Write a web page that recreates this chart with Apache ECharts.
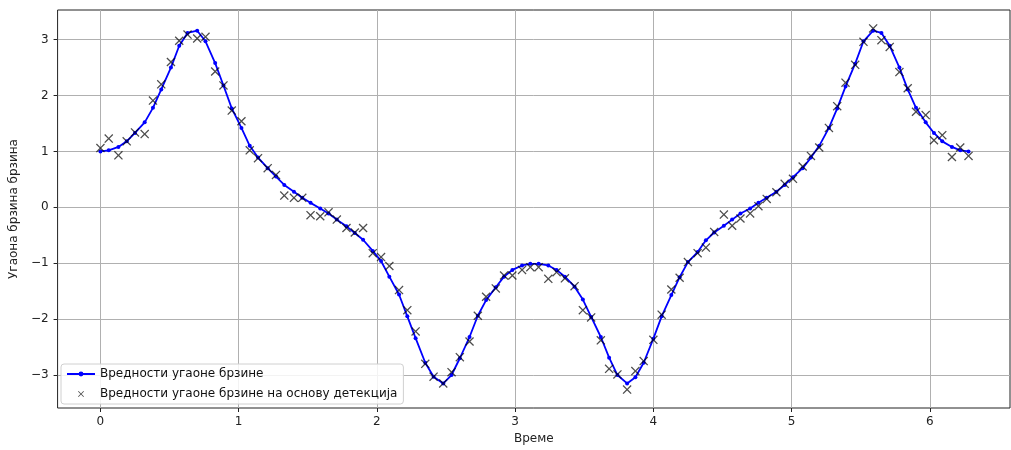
<!DOCTYPE html>
<html><head><meta charset="utf-8">
<script src="https://cdn.jsdelivr.net/npm/echarts@6/dist/echarts.min.js"></script>
<style>html,body{margin:0;padding:0;background:#fff}#c{width:1011px;height:450px}</style>
</head><body><div id="c"></div><script>
const times = [0.00,0.06,0.13,0.19,0.25,0.32,0.38,0.44,0.51,0.57,
0.63,0.70,0.76,0.83,0.89,0.95,1.02,1.08,1.14,1.21,
1.27,1.33,1.40,1.46,1.52,1.59,1.65,1.71,1.78,1.84,
1.90,1.97,2.03,2.09,2.16,2.22,2.28,2.35,2.41,2.48,
2.54,2.60,2.67,2.73,2.79,2.86,2.92,2.98,3.05,3.11,
3.17,3.24,3.30,3.36,3.43,3.49,3.55,3.62,3.68,3.74,
3.81,3.87,3.93,4.00,4.06,4.13,4.19,4.25,4.32,4.38,
4.44,4.51,4.57,4.63,4.70,4.76,4.82,4.89,4.95,5.01,
5.08,5.14,5.20,5.27,5.33,5.39,5.46,5.52,5.59,5.65,
5.71,5.78,5.84,5.90,5.97,6.03,6.09,6.16,6.22,6.28];
const omega = [1.00,1.02,1.08,1.18,1.33,1.52,1.78,2.11,2.50,2.89,
3.12,3.16,2.97,2.58,2.18,1.77,1.42,1.10,0.89,0.70,
0.55,0.40,0.28,0.17,0.08,-0.02,-0.11,-0.22,-0.34,-0.46,
-0.58,-0.78,-0.96,-1.24,-1.56,-1.95,-2.34,-2.78,-3.03,-3.15,
-3.00,-2.70,-2.32,-1.94,-1.66,-1.43,-1.24,-1.12,-1.04,-1.01,
-1.01,-1.04,-1.12,-1.24,-1.42,-1.65,-1.96,-2.32,-2.69,-3.00,
-3.15,-3.04,-2.78,-2.35,-1.95,-1.57,-1.25,-0.98,-0.80,-0.59,
-0.45,-0.33,-0.22,-0.11,-0.02,0.08,0.17,0.28,0.40,0.54,
0.70,0.89,1.10,1.42,1.77,2.16,2.57,2.97,3.16,3.12,
2.89,2.50,2.11,1.78,1.52,1.33,1.18,1.08,1.02,1.00];
const omegaDetected = [1.06,1.23,0.93,1.18,1.34,1.31,1.91,2.20,2.60,2.98,
3.09,3.02,3.05,2.43,2.18,1.73,1.54,1.02,0.88,0.70,
0.58,0.21,0.17,0.17,-0.14,-0.16,-0.09,-0.22,-0.37,-0.45,
-0.37,-0.82,-0.89,-1.05,-1.48,-1.84,-2.22,-2.80,-3.03,-3.15,
-2.95,-2.68,-2.40,-1.94,-1.60,-1.45,-1.22,-1.22,-1.12,-1.07,
-1.07,-1.28,-1.16,-1.27,-1.41,-1.84,-1.97,-2.38,-2.89,-2.99,
-3.26,-2.93,-2.75,-2.37,-1.92,-1.47,-1.26,-0.98,-0.82,-0.72,
-0.44,-0.13,-0.33,-0.20,-0.11,0.02,0.15,0.27,0.42,0.51,
0.73,0.92,1.07,1.42,1.81,2.23,2.55,2.96,3.20,2.99,
2.87,2.42,2.13,1.71,1.65,1.20,1.29,0.90,1.07,0.92];
const xTicks = [0,1,2,3,4,5,6];
const yTicks = [-3,-2,-1,0,1,2,3];
const seriesNames = ['Вредности угаоне брзине','Вредности угаоне брзине на основу детекција'];
const xName = 'Време';
const yName = 'Угаона брзина брзина';

const X_PATH = 'path://M0,0.1 L0.1,0 L0.5,0.4 L0.9,0 L1,0.1 L0.6,0.5 L1,0.9 L0.9,1 L0.5,0.6 L0.1,1 L0,0.9 L0.4,0.5 Z';
const font = 'DejaVu Sans';
const fmt = v => String(v).replace('-', '\u2212');
const chart = echarts.init(document.getElementById('c'), null, {renderer:'canvas'});
chart.setOption({
  animation:false,
  backgroundColor:'#fff',
  grid:{left:55,right:1,top:10,bottom:40,show:true,borderColor:'#222',borderWidth:1,backgroundColor:'transparent'},
  xAxis:{type:'value',min:-0.31,max:6.58,splitNumber:7,
    name:xName,nameLocation:'middle',nameGap:25,nameTextStyle:{fontFamily:font,fontSize:12,color:'#222'},
    axisLine:{show:false,onZero:false},
    axisTick:{show:true,customValues:xTicks,length:4,lineStyle:{color:'#222'}},
    axisLabel:{customValues:xTicks,formatter:fmt,margin:8,fontFamily:font,fontSize:12,color:'#222'},
    splitLine:{show:true,lineStyle:{color:'#b0b0b0',width:1}}},
  yAxis:{type:'value',min:-3.59,max:3.53,splitNumber:7,
    name:yName,nameLocation:'middle',nameGap:35,nameRotate:90,nameTextStyle:{fontFamily:font,fontSize:12,color:'#222'},
    axisLine:{show:false,onZero:false},
    axisTick:{show:true,customValues:yTicks,length:4,lineStyle:{color:'#222'}},
    axisLabel:{customValues:yTicks,formatter:fmt,margin:9,fontFamily:font,fontSize:12,color:'#222'},
    splitLine:{show:true,lineStyle:{color:'#b0b0b0',width:1}}},
  legend:{orient:'vertical',left:61,top:364,
    backgroundColor:'rgba(255,255,255,0.85)',borderColor:'#d0d0d0',borderWidth:1,borderRadius:3,
    padding:[4,6,4,5],itemWidth:28,itemHeight:6,itemGap:8,
    textStyle:{fontFamily:font,fontSize:12,color:'#111'},
    data:[{name:seriesNames[0]},{name:seriesNames[1],icon:X_PATH}]},
  series:[
    {name:seriesNames[0],type:'line',data:times.map((t,i)=>[t,omega[i]]),
     symbol:'circle',symbolSize:4,showSymbol:true,
     lineStyle:{color:'#0000ff',width:1.8},itemStyle:{color:'#0000ff'},z:2},
    {name:seriesNames[1],type:'scatter',data:times.map((t,i)=>[t,omegaDetected[i]]),
     symbol:X_PATH,symbolSize:9,symbolKeepAspect:true,
     itemStyle:{color:'rgba(0,0,0,0.88)'},z:3}
  ]
});
</script></body></html>
